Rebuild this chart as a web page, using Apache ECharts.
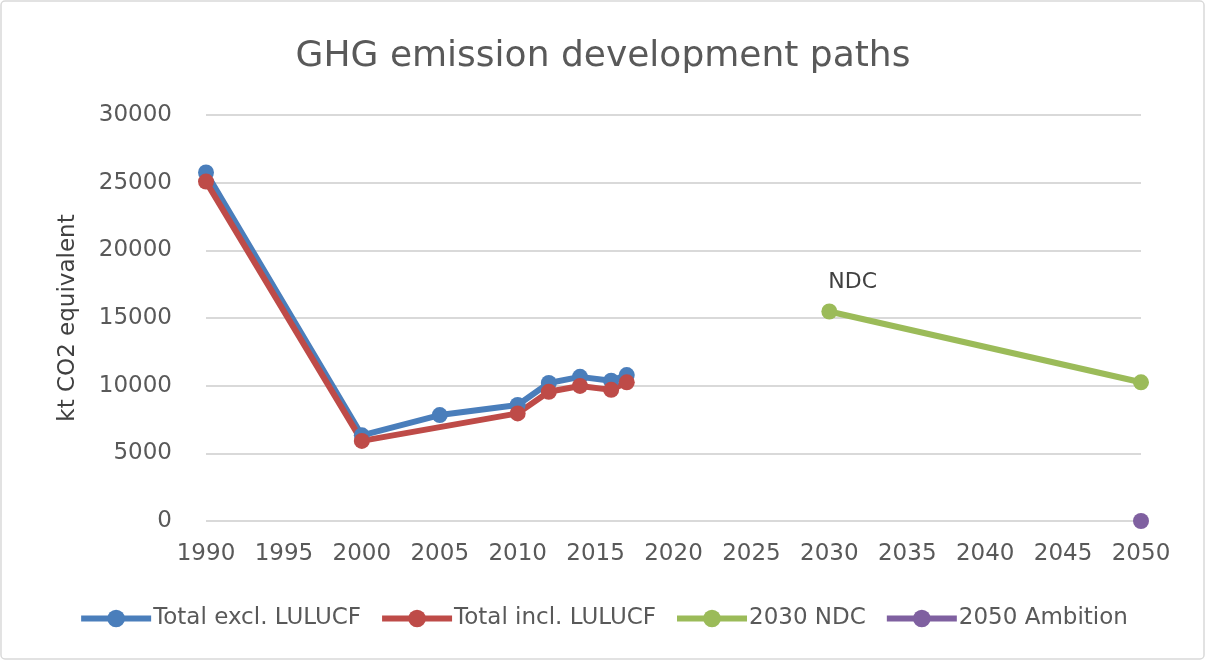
<!DOCTYPE html>
<html><head><meta charset="utf-8">
<script src="https://cdn.jsdelivr.net/npm/echarts@6/dist/echarts.min.js"></script>
<style>html,body{margin:0;padding:0;background:#fff}#c{width:1206px;height:661px}</style>
</head><body><div id="c"></div>
<script>
const exclYears = [1990, 2000, 2005, 2010, 2012, 2014, 2016, 2017];
const exclValues = [25750, 6330, 7830, 8570, 10200, 10650, 10370, 10780];
const inclYears = [1990, 2000, 2010, 2012, 2014, 2016, 2017];
const inclValues = [25080, 5920, 7950, 9550, 9980, 9690, 10250];
const ndcYears = [2030, 2050];
const ndcValues = [15480, 10250];
const ambitionYears = [2050];
const ambitionValues = [0];
const seriesNames = ['Total excl. LULUCF', 'Total incl. LULUCF', '2030 NDC', '2050 Ambition'];
const colors = ['#4A7EBB', '#BE4B48', '#9BBB59', '#7F60A0'];

const pairs = (xs, ys) => xs.map((x, i) => [x, ys[i]]);
const FONT = 'DejaVu Sans';
const TXT = '#595959';

const chart = echarts.init(document.getElementById('c'), null, {renderer: 'canvas'});
const mk = (name, data, color, extra) => Object.assign({
  name, type: 'line', data, symbol: 'circle', symbolSize: 16,
  lineStyle: {width: 6, color}, itemStyle: {color}, color,
  z: 3
}, extra || {});

chart.setOption({
  backgroundColor: '#fff',
  animation: false,
  title: {text: 'GHG emission development paths', left: 'center', top: 34,
    textStyle: {fontFamily: FONT, fontSize: 36, fontWeight: 'normal', color: TXT}},
  grid: {left: 206, right: 65, top: 115, bottom: 140},
  xAxis: {type: 'value', min: 1990, max: 2050, interval: 5,
    axisLine: {show: false}, axisTick: {show: false}, splitLine: {show: false},
    axisLabel: {fontFamily: FONT, fontSize: 23, color: TXT, margin: 22,
      formatter: v => String(v)}},
  yAxis: {type: 'value', min: 0, max: 30000, interval: 5000,
    name: 'kt CO2 equivalent', nameLocation: 'middle', nameGap: 126,
    nameTextStyle: {fontFamily: FONT, fontSize: 23, color: '#404040'},
    axisLine: {show: false}, axisTick: {show: false},
    splitLine: {lineStyle: {color: '#D9D9D9', width: 2}},
    axisLabel: {fontFamily: FONT, fontSize: 23, color: TXT, margin: 34,
      formatter: v => String(v)}},
  legend: {bottom: 26, left: 'center', itemWidth: 70, itemHeight: 22, itemGap: 18,
    lineStyle: {width: 6},
    textStyle: {fontFamily: FONT, fontSize: 23, color: TXT, padding: [0, 0, 0, -3]},
    data: seriesNames},
  series: [
    mk(seriesNames[0], pairs(exclYears, exclValues), colors[0]),
    mk(seriesNames[1], pairs(inclYears, inclValues), colors[1]),
    mk(seriesNames[2], pairs(ndcYears, ndcValues), colors[2], {
      label: {show: true, formatter: p => p.dataIndex === 0 ? 'NDC' : '',
        position: 'top', align: 'left', offset: [-1, -5],
        fontFamily: FONT, fontSize: 22, color: '#404040'}}),
    mk(seriesNames[3], pairs(ambitionYears, ambitionValues), colors[3])
  ],
  graphic: [{type: 'rect', shape: {x: 1, y: 1, width: 1203, height: 658, r: 4},
    style: {fill: null, stroke: '#D9D9D9', lineWidth: 1.5}, silent: true}]
});
</script></body></html>
